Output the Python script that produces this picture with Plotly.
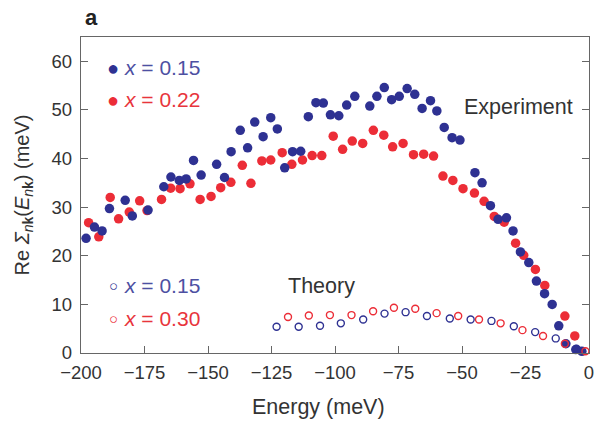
import plotly.graph_objects as go

# Experiment, x = 0.15 (blue filled)
exp15_e = [-198.0, -194.7, -191.7, -188.8, -182.6, -179.8, -173.6, -167.4, -164.6, -161.3,
           -158.6, -155.7, -152.7, -146.6, -143.5, -140.9, -137.3, -134.4, -131.6, -128.3,
           -125.3, -122.7, -119.8, -116.7, -113.5, -110.5, -107.5, -104.6, -101.8, -98.5,
           -95.4, -92.2, -86.3, -83.5, -80.6, -77.7, -74.7, -71.6, -68.6, -65.7,
           -62.4, -59.9, -57.0, -53.9, -50.8, -44.9, -42.1, -38.8, -35.8, -32.5,
           -29.9, -27.0, -23.7, -20.7, -17.5, -14.5, -11.9, -9.1, -5.2, -2.8]
exp15_v = [23.6, 25.9, 25.1, 29.7, 31.4, 28.2, 29.4, 34.2, 36.2, 35.5,
           35.8, 39.6, 36.6, 38.8, 36.1, 41.4, 45.8, 42.2, 47.5, 44.5,
           48.4, 46.1, 38.1, 41.4, 41.5, 48.6, 51.5, 51.4, 49.0, 48.8,
           51.0, 52.8, 50.8, 52.8, 54.6, 52.1, 52.8, 54.4, 53.2, 50.3,
           51.9, 49.8, 46.4, 44.3, 43.8, 37.1, 35.0, 30.3, 27.5, 27.8,
           25.1, 20.8, 18.6, 14.8, 12.2, 10.0, 5.6, 1.9, 0.7, 0.35]

# Experiment, x = 0.22 (red filled)
exp22_e = [-197.0, -193.0, -188.5, -185.2, -181.0, -176.9, -174.0, -168.3, -164.7, -161.0,
           -157.1, -153.1, -148.8, -145.0, -141.0, -136.5, -133.1, -128.8, -125.3, -120.8,
           -117.0, -112.8, -109.0, -105.2, -100.7, -97.0, -93.2, -89.1, -84.9, -80.8,
           -77.3, -73.2, -69.1, -65.1, -61.2, -57.5, -53.6, -49.6, -45.1, -41.3,
           -37.3, -33.4, -28.9, -25.7, -21.1, -17.4, -9.5, -5.6]
exp22_v = [26.8, 23.9, 32.0, 27.6, 29.0, 31.3, 29.3, 31.6, 33.9, 33.8,
           34.8, 31.6, 32.2, 34.0, 35.1, 38.6, 34.9, 39.5, 39.7, 41.2,
           38.8, 39.7, 40.6, 40.6, 44.6, 41.9, 43.6, 43.1, 45.8, 44.8,
           42.4, 43.1, 40.8, 40.9, 40.5, 36.4, 35.5, 33.8, 32.9, 31.2,
           28.1, 26.9, 22.6, 20.1, 17.2, 13.9, 7.6, 3.5]

# Theory, x = 0.15 (blue open)
th15_e = [-123.0, -114.3, -105.9, -97.7, -88.9, -80.5, -72.2, -63.8, -54.8, -46.6,
          -38.4, -29.6, -21.2, -13.1, -4.9]
th15_v = [5.4, 5.4, 5.6, 6.1, 6.9, 8.1, 8.4, 7.6, 7.1, 6.9,
          6.6, 5.5, 4.3, 3.0, 0.9]

# Theory, x = 0.30 (red open)
th30_e = [-118.5, -110.3, -102.0, -93.5, -85.0, -76.8, -68.4, -60.0, -51.5, -43.3,
          -34.8, -26.2, -18.1, -9.5, -1.4]
th30_v = [7.4, 7.7, 7.8, 7.8, 8.6, 9.3, 9.1, 8.2, 7.6, 6.9,
          6.1, 4.7, 3.5, 1.9, 0.35]

x_ticks = [-200, -175, -150, -125, -100, -75, -50, -25, 0]
y_ticks = [0, 10, 20, 30, 40, 50, 60]

exp_labels = ["<i>x</i> = 0.15", "<i>x</i> = 0.22"]
th_labels = ["<i>x</i> = 0.15", "<i>x</i> = 0.30"]

BLUE = "#2e3192"
RED = "#ec2d37"
BLUE_TXT = "#4d50a2"
RED_TXT = "#e8353c"
FONT = "Liberation Sans, Arial, sans-serif"

fig = go.Figure()
fig.add_trace(go.Scatter(x=exp22_e, y=exp22_v, mode="markers", cliponaxis=False,
                         marker=dict(color=RED, size=9.5, line=dict(width=0))))
fig.add_trace(go.Scatter(x=exp15_e, y=exp15_v, mode="markers", cliponaxis=False,
                         marker=dict(color=BLUE, size=9.5, line=dict(width=0))))
fig.add_trace(go.Scatter(x=th15_e, y=th15_v, mode="markers", cliponaxis=False,
                         marker=dict(symbol="circle-open", color=BLUE, size=7,
                                     line=dict(width=1.4, color=BLUE))))
fig.add_trace(go.Scatter(x=th30_e, y=th30_v, mode="markers", cliponaxis=False,
                         marker=dict(symbol="circle-open", color=RED, size=7,
                                     line=dict(width=1.4, color=RED))))


def px_x(p):
    return (p - 81) / 508.0


def px_y(p):
    return (353 - p) / 316.0


annos = [
    dict(x=px_x(83), y=px_y(18), text="<b>a</b>", font=dict(size=22, color="#222"),
         xanchor="left"),
    dict(x=px_x(462), y=px_y(107), text="Experiment", font=dict(size=21.5, color="#333"),
         xanchor="left"),
    dict(x=px_x(286), y=px_y(286), text="Theory", font=dict(size=21.5, color="#333"),
         xanchor="left"),
    dict(x=px_x(318.5), y=px_y(407), text="Energy (meV)", font=dict(size=21.5, color="#333"),
         xanchor="center"),
]
rows = [(68, "●", BLUE, BLUE_TXT, exp_labels[0], 20),
        (100, "●", RED, RED_TXT, exp_labels[1], 20),
        (285, "○", BLUE, BLUE_TXT, th_labels[0], 15),
        (318, "○", RED, RED_TXT, th_labels[1], 15)]
for py, sym, c, tc, lab, ss in rows:
    annos.append(dict(x=px_x(113), y=px_y(py), text=sym, xanchor="center",
                      font=dict(size=ss, color=c)))
    annos.append(dict(x=px_x(122), y=px_y(py), text=lab, xanchor="left",
                      font=dict(size=21, color=tc)))
for a in annos:
    a.update(xref="paper", yref="paper", showarrow=False, yanchor="middle")

fig.update_layout(
    width=595, height=421,
    margin=dict(l=81, r=6, t=37, b=68),
    paper_bgcolor="white", plot_bgcolor="white",
    showlegend=False,
    font=dict(family=FONT, size=18.5, color="#333"),
    annotations=annos,
)
fig.update_xaxes(range=[-200, 0], tickvals=x_ticks, ticks="inside", ticklen=7,
                 tickcolor="#666", linecolor="#666", linewidth=1.4, mirror=True,
                 showgrid=False, zeroline=False, ticklabelstandoff=3, automargin=False,
                 tickfont=dict(size=18.5, color="#333"))
fig.update_yaxes(range=[0, 65], tickvals=y_ticks, ticks="inside", ticklen=7,
                 tickcolor="#666", linecolor="#666", linewidth=1.4, mirror="ticks",
                 showgrid=False, zeroline=False, ticklabelstandoff=4, automargin=False,
                 tickfont=dict(size=18.5, color="#333"),
                 title=dict(text="Re <i>Σ</i><sub><i>n</i><b>k</b></sub>(<i>E</i><sub><i>n</i><b>k</b></sub>) (meV)",
                            font=dict(size=20, color="#333"), standoff=16))

fig.write_html("out.html", config={"displayModeBar": False},
               post_script="document.body.style.margin='0';document.body.style.padding='0';")
